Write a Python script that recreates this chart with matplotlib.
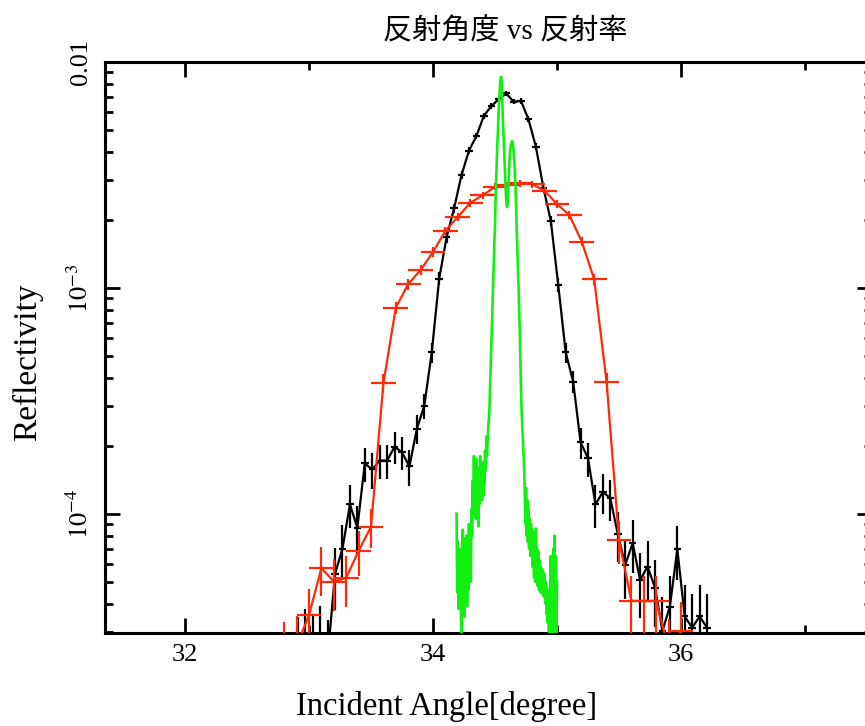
import numpy as np
import matplotlib
matplotlib.use("Agg")
import matplotlib.pyplot as plt
from matplotlib.ticker import MultipleLocator, LogLocator, FixedLocator, FixedFormatter, NullFormatter

plt.rcParams['font.family'] = ['Liberation Serif', 'Noto Sans CJK JP']
plt.rcParams['mathtext.fontset'] = 'stix'

# ---------------- data ----------------
title = "反射角度 vs 反射率"
xlabel = "Incident Angle[degree]"
ylabel = "Reflectivity"

x_ticks_major = [32, 34, 36]
x_tick_labels = ["32", "34", "36"]
y_ticks_major = [1e-4, 1e-3, 1e-2]
y_tick_labels = [r"$10^{-4}$", r"$10^{-3}$", "0.01"]

black_x = [32.91, 32.97, 33.03, 33.09, 33.15, 33.21, 33.27, 33.33, 33.39, 33.45,
           33.51, 33.57, 33.63, 33.69, 33.75, 33.81, 33.87, 33.93, 33.99, 34.05,
           34.11, 34.17, 34.23, 34.29, 34.35, 34.41, 34.47, 34.53, 34.59, 34.65,
           34.71, 34.77, 34.83, 34.89, 34.95, 35.01, 35.07, 35.13, 35.19, 35.25,
           35.31, 35.37, 35.43, 35.49, 35.55, 35.61, 35.67, 35.73, 35.79, 35.85,
           35.91, 35.97, 36.03, 36.09, 36.15, 36.21]
black_y = [2.4e-5, 2.6e-5, 2.5e-5, 2.7e-5, 2.3e-5, 5.42e-5, 7.0e-5, 1.10e-4, 8.67e-5, 1.67e-4,
           1.57e-4, 1.72e-4, 1.72e-4, 1.98e-4, 1.87e-4, 1.62e-4, 2.38e-4, 3.01e-4, 5.18e-4, 1.10e-3,
           1.68e-3, 2.25e-3, 3.16e-3, 4.05e-3, 4.70e-3, 5.77e-3, 6.38e-3, 6.84e-3, 7.26e-3, 6.67e-3,
           6.72e-3, 5.57e-3, 4.21e-3, 2.78e-3, 1.98e-3, 1.03e-3, 5.18e-4, 3.85e-4, 2.07e-4, 1.76e-4,
           1.10e-4, 1.25e-4, 1.17e-4, 8.13e-5, 5.93e-5, 7.41e-5, 5.08e-5, 5.84e-5, 4.71e-5, 3.03e-5,
           3.88e-5, 6.97e-5, 3.51e-5, 3.13e-5, 3.51e-5, 3.13e-5]
black_yerr = [1.1e-5, 1.2e-5, 1.1e-5, 1.2e-5, 1.1e-5, 1.66e-5, 1.89e-5, 2.37e-5, 2.10e-5, 2.92e-5,
              2.83e-5, 2.96e-5, 2.96e-5, 3.18e-5, 3.09e-5, 2.88e-5, 3.49e-5, 3.92e-5, 5.1e-5, 7.5e-5,
              9.3e-5, 1.07e-4, 1.27e-4, 1.44e-4, 1.55e-4, 1.72e-4, 1.80e-4, 1.87e-4, 1.93e-4, 1.85e-4,
              1.85e-4, 1.69e-4, 1.47e-4, 1.19e-4, 1.01e-4, 7.3e-5, 5.1e-5, 4.4e-5, 3.25e-5, 3.0e-5,
              2.37e-5, 2.53e-5, 2.45e-5, 2.04e-5, 1.74e-5, 1.95e-5, 1.61e-5, 1.73e-5, 1.55e-5, 1.24e-5,
              1.41e-5, 1.89e-5, 1.34e-5, 1.26e-5, 1.34e-5, 1.26e-5]
black_xerr = 0.03

red_x = [32.8, 32.9, 33.0, 33.1, 33.2, 33.3, 33.4, 33.5, 33.6, 33.7,
         33.8, 33.9, 34.0, 34.1, 34.2, 34.3, 34.4, 34.5, 34.6, 34.7,
         34.8, 34.9, 35.0, 35.1, 35.2, 35.3, 35.4, 35.5, 35.6, 35.7,
         35.8, 35.9, 36.0]
red_y = [2.4e-5, 2.6e-5, 3.56e-5, 5.74e-5, 5.01e-5, 5.19e-5, 6.85e-5, 8.75e-5, 3.78e-4, 8.17e-4,
         1.04e-3, 1.20e-3, 1.44e-3, 1.79e-3, 2.06e-3, 2.38e-3, 2.57e-3, 2.80e-3, 2.85e-3, 2.90e-3,
         2.88e-3, 2.69e-3, 2.35e-3, 2.10e-3, 1.60e-3, 1.09e-3, 3.82e-4, 7.64e-5, 4.11e-5, 4.11e-5,
         4.11e-5, 2.5e-5, 3.03e-5]
red_yerr = [9.1e-6, 9.4e-6, 1.10e-5, 1.40e-5, 1.31e-5, 1.33e-5, 1.53e-5, 1.73e-5, 3.6e-5, 5.3e-5,
            6.0e-5, 6.4e-5, 7.0e-5, 7.8e-5, 8.4e-5, 9.0e-5, 9.4e-5, 9.8e-5, 9.9e-5, 1.0e-4,
            9.9e-5, 9.6e-5, 9.0e-5, 8.5e-5, 7.4e-5, 6.1e-5, 3.6e-5, 1.62e-5, 1.19e-5, 1.19e-5,
            1.19e-5, 9.3e-6, 1.02e-5]
red_xerr = 0.1

green_x = [34.190, 34.195, 34.200, 34.205, 34.210, 34.215, 34.220, 34.225, 34.230, 34.235,
           34.240, 34.245, 34.250, 34.255, 34.260, 34.265, 34.270, 34.275, 34.280, 34.285,
           34.290, 34.295, 34.300, 34.305, 34.310, 34.315, 34.320, 34.325, 34.330, 34.335,
           34.340, 34.345, 34.350, 34.355, 34.360, 34.365, 34.370, 34.375, 34.380, 34.385,
           34.390, 34.395, 34.400, 34.405, 34.410, 34.415, 34.420, 34.425, 34.430, 34.435,
           34.440, 34.445, 34.450, 34.455, 34.460, 34.465, 34.470, 34.475, 34.480, 34.485,
           34.490, 34.495, 34.500, 34.505, 34.510, 34.515, 34.520, 34.525, 34.530, 34.535,
           34.540, 34.545, 34.550, 34.555, 34.560, 34.565, 34.570, 34.575, 34.580, 34.585,
           34.590, 34.595, 34.600, 34.605, 34.610, 34.615, 34.620, 34.625, 34.630, 34.635,
           34.640, 34.645, 34.650, 34.655, 34.660, 34.665, 34.670, 34.675, 34.680, 34.685,
           34.690, 34.695, 34.700, 34.705, 34.710, 34.715, 34.720, 34.725, 34.730, 34.735,
           34.740, 34.745, 34.750, 34.755, 34.760, 34.765, 34.770, 34.775, 34.780, 34.785,
           34.790, 34.795, 34.800, 34.805, 34.810, 34.815, 34.820, 34.825, 34.830, 34.835,
           34.840, 34.845, 34.850, 34.855, 34.860, 34.865, 34.870, 34.875, 34.880, 34.885,
           34.890, 34.895, 34.900, 34.905, 34.910, 34.915, 34.920, 34.925, 34.930, 34.935,
           34.940, 34.945, 34.950, 34.955, 34.960, 34.965, 34.970, 34.975, 34.980, 34.985,
           34.990, 34.995, 35.000]
green_y = [10.0e-5, 4.5e-5, 7.5e-5, 3.8e-5, 6.0e-5, 4.2e-5, 7.0e-5, 3.6e-5, 2.9e-5, 5.5e-5,
           8.5e-5, 4.0e-5, 7.8e-5, 3.5e-5, 6.5e-5, 5.0e-5, 8.0e-5, 3.9e-5, 6.8e-5, 4.6e-5,
           9.0e-5, 5.4e-5, 7.5e-5, 5.0e-5, 10.5e-5, 8.0e-5, 14.0e-5, 10.0e-5, 18.0e-5, 11.0e-5,
           15.0e-5, 9.5e-5, 17.5e-5, 12.0e-5, 16.0e-5, 8.8e-5, 14.5e-5, 11.0e-5, 18.0e-5, 13.0e-5,
           16.5e-5, 11.5e-5, 15.0e-5, 12.0e-5, 17.0e-5, 13.5e-5, 19.0e-5, 15.5e-5, 22.0e-5, 18.0e-5,
           21.0e-5, 24.0e-5, 2.6e-4, 2.9e-4, 3.6e-4, 4.5e-4, 5.6e-4, 7.0e-4, 8.8e-4, 1.1e-3,
           1.35e-3, 1.6e-3, 1.9e-3, 2.5e-3, 3.1e-3, 3.8e-3, 4.5e-3, 5.3e-3, 6.2e-3, 7.0e-3,
           7.8e-3, 8.5e-3, 8.6e-3, 7.9e-3, 6.4e-3, 5.3e-3, 4.5e-3, 3.9e-3, 3.3e-3, 2.8e-3,
           2.45e-3, 2.28e-3, 2.3e-3, 2.6e-3, 3.0e-3, 3.5e-3, 3.9e-3, 4.2e-3, 4.35e-3, 4.45e-3,
           4.45e-3, 4.3e-3, 4.0e-3, 3.7e-3, 3.3e-3, 2.8e-3, 2.3e-3, 1.8e-3, 1.5e-3, 1.2e-3,
           1.0e-3, 8.0e-4, 6.3e-4, 4.6e-4, 3.5e-4, 2.8e-4, 2.4e-4, 2.1e-4, 1.85e-4, 1.6e-4,
           12.5e-5, 9.0e-5, 13.0e-5, 8.0e-5, 11.5e-5, 7.5e-5, 10.5e-5, 7.0e-5, 9.5e-5, 6.5e-5,
           9.0e-5, 6.8e-5, 8.5e-5, 5.8e-5, 8.2e-5, 5.2e-5, 7.5e-5, 5.0e-5, 8.6e-5, 5.5e-5,
           7.0e-5, 4.8e-5, 6.8e-5, 4.6e-5, 6.2e-5, 4.5e-5, 5.8e-5, 4.6e-5, 5.7e-5, 4.4e-5,
           5.5e-5, 4.3e-5, 5.4e-5, 4.0e-5, 5.0e-5, 3.6e-5, 4.7e-5, 3.3e-5, 4.5e-5, 3.0e-5,
           4.2e-5, 2.9e-5, 6.5e-5, 3.2e-5, 4.0e-5, 2.8e-5, 7.0e-5, 3.5e-5, 8.0e-5, 3.0e-5,
           6.5e-5, 2.9e-5, 5.0e-5]

# ---------------- figure ----------------
fig = plt.figure(figsize=(8.65, 7.26), dpi=100)
ax = fig.add_axes([105/865, (726-632.5)/726, (872-105)/865, (632.5-62)/726])

ax.errorbar(black_x, black_y, yerr=black_yerr, xerr=black_xerr, fmt='-', color='black',
            lw=1.6, elinewidth=1.6, capsize=0, zorder=3)
ax.errorbar(red_x, red_y, yerr=red_yerr, xerr=red_xerr, fmt='-', color='#ff2a0a',
            lw=1.6, elinewidth=1.6, capsize=0, zorder=4)
ax.plot(green_x, green_y, '-', color='#12f012', lw=1.9, zorder=5)

ax.set_yscale('log')
ax.set_xlim(31.355, 37.540)
ax.set_ylim(2.98e-5, 1e-2)

ax.xaxis.set_major_locator(FixedLocator(x_ticks_major))
ax.xaxis.set_major_formatter(FixedFormatter(x_tick_labels))
ax.xaxis.set_minor_locator(MultipleLocator(1))
ax.yaxis.set_major_locator(FixedLocator(y_ticks_major))
ax.yaxis.set_major_formatter(FixedFormatter(y_tick_labels))
ax.yaxis.set_minor_locator(LogLocator(base=10, subs=np.arange(2, 10)))
ax.yaxis.set_minor_formatter(NullFormatter())

ax.tick_params(which='both', direction='in', top=True, right=True, colors='black')
ax.tick_params(which='major', length=11, width=2)
ax.tick_params(which='minor', length=6, width=2)
ax.tick_params(axis='x', labelsize=19, pad=8)
ax.tick_params(axis='y', labelsize=19, pad=9)
for lab in ax.get_yticklabels():
    lab.set_rotation(90)
    lab.set_va('center')

for s in ax.spines.values():
    s.set_linewidth(2.2)

ax.set_title(title, fontsize=21, x=(505 - 105) / 767, y=1.0, pad=16)
ax.set_xlabel(xlabel, fontsize=23.5)
ax.xaxis.set_label_coords((446.5 - 105) / 767, -0.103)
ax.set_ylabel(ylabel, fontsize=24)
ax.yaxis.set_label_coords((43 - 105) / 767, (632.5 - 362.5) / 570.5)

fig.savefig("out.png", dpi=100)
